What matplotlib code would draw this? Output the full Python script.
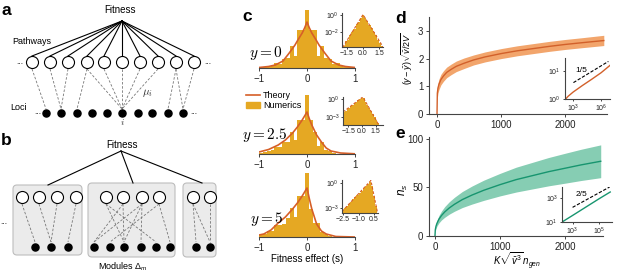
import matplotlib
matplotlib.use('Agg')
import matplotlib.pyplot as plt
import numpy as np
from matplotlib.patches import FancyBboxPatch, Patch
from matplotlib.lines import Line2D

plt.rcParams['font.family'] = ['Liberation Sans', 'DejaVu Sans']
plt.rcParams['mathtext.fontset'] = 'custom'
plt.rcParams['mathtext.it'] = 'Liberation Sans:italic'
plt.rcParams['mathtext.rm'] = 'Liberation Sans'
plt.rcParams['axes.unicode_minus'] = True

W, H = 617, 275

# ---------------- data ----------------
# panel a (schematic)
a_path_x = [32, 50, 68, 87, 104, 122, 140, 158, 176, 194]
a_loci_x = [46, 61, 77, 92, 107, 122, 138, 152, 168, 183]
a_links = [(0, 0), (1, 1), (2, 1), (3, 2), (3, 5), (4, 5), (5, 5), (6, 5), (7, 5), (8, 8), (8, 9), (9, 9)]

# panel b (schematic)
b_box_x0 = [13, 88, 183]
b_box_x1 = [82, 175, 216]
b_box_y0 = [185, 183, 183]
b_box_y1 = [255, 257, 257]
b_path_x = [[22, 39, 57, 76], [106, 123, 142, 159], [193, 210]]
b_loci_x = [[35, 51, 68], [94, 110, 124, 141, 156, 170], [196, 210]]
b_links = [[(0, 0), (1, 1), (2, 1), (3, 2)],
           [(0, 2), (0, 4), (1, 0), (1, 2), (2, 0), (2, 2), (2, 3), (3, 1), (3, 5)],
           [(0, 0), (0, 1), (1, 1)]]
b_fit_x = [48, 133, 202]
b_fit_y = [185, 183, 183]

# panel c: histograms (main) and theory curves
c_edges = [-1.0, -0.92, -0.84, -0.76, -0.68, -0.60, -0.52, -0.44, -0.36, -0.28, -0.20, -0.12, -0.04,
           0.04, 0.12, 0.20, 0.28, 0.36, 0.44, 0.52, 0.60, 0.68, 0.76, 0.84, 0.92, 1.0]
c_num_y0 = [0.5, 1, 1.5, 2, 5, 4, 9, 10, 22, 12, 38, 38, 58, 38, 38, 12, 22, 10, 9, 4, 5, 2, 1.5, 1, 0.5]
c_num_y25 = [1.5, 2, 3, 4, 7, 7, 12, 12, 22, 14, 34, 34, 59, 34, 22, 8, 12, 4, 3, 1, 0.5, 0.3, 0, 0, 0]
c_num_y5 = [2, 3, 6, 6, 12, 12, 13, 19, 29, 20, 41, 41, 64, 28, 14, 14, 5, 3, 1, 0.5, 0, 0, 0, 0, 0]

c_th_s0 = [-1, -0.8, -0.66, -0.5, -0.37, -0.25, -0.19, -0.1, -0.05, 0, 0.05, 0.1, 0.19, 0.25, 0.37, 0.5, 0.66, 0.8, 1]
c_th_h0 = [0.5, 1.5, 3, 7, 15, 23, 28, 35, 40, 46, 40, 35, 28, 23, 15, 7, 3, 1.5, 0.5]
c_th_s25 = [-1, -0.8, -0.6, -0.45, -0.3, -0.2, -0.1, -0.05, 0, 0.05, 0.1, 0.2, 0.3, 0.4, 0.5, 0.7, 1.0]
c_th_h25 = [2, 4.5, 9, 14, 21, 27, 34, 38, 42, 35, 29, 19, 12, 6, 3, 1, 0.2]
c_th_s5 = [-1, -0.9, -0.75, -0.6, -0.45, -0.3, -0.2, -0.1, -0.05, 0, 0.05, 0.1, 0.2, 0.3, 0.4, 0.6, 1.0]
c_th_h5 = [2, 3, 7, 14, 20, 28, 34, 41, 45, 49, 38, 28, 13, 6, 3, 0.5, 0]

# panel c insets (log10 of density)
ci1_edges = np.linspace(-1.9, 1.9, 20)
ci1_log = [-3.7, -3.1, -2.9, -2.3, -2.0, -1.6, -1.1, -0.8, -0.35, 0.05, -0.4, -0.75, -1.2, -1.55, -2.05, -2.4, -2.9, -3.3, -3.7]
ci1_th_s = [-1.9, 0, 1.9]
ci1_th_log = [-3.8, 0.05, -3.8]
ci2_edges = np.linspace(-2.1, 1.9, 21)
ci2_log = [-2.17, -1.93, -1.69, -1.45, -1.21, -0.97, -0.73, -0.49, -0.25, -0.01, 0.23, 0.09, -0.43, -0.95, -1.47, -1.99, -2.51, -3.03, -3.55, -4.07]
ci2_th_s = [-2.1, 0.1, 1.85]
ci2_th_log = [-2.17, 0.35, -4.3]
ci3_edges = np.linspace(-2.6, 0.8, 18)
ci3_log = [-3.29, -3.03, -2.76, -2.49, -2.23, -1.96, -1.70, -1.43, -1.16, -0.90, -0.63, -0.37, -0.10, 0.17, -0.30, -1.50, -2.70]
ci3_th_s = [-2.6, 0.2, 0.85]
ci3_th_log = [-3.42, 0.3, -3.6]

# panel d
d_x = [0, 5, 15, 30, 60, 100, 150, 220, 300, 420, 570, 750, 1000, 1250, 1500, 1750, 2000, 2250, 2600]
d_mean = [0, 0.75, 0.94, 1.07, 1.24, 1.37, 1.50, 1.61, 1.72, 1.83, 1.95, 2.06, 2.18, 2.28, 2.36, 2.44, 2.51, 2.57, 2.65]
d_lo = [0, 0.58, 0.76, 0.88, 1.05, 1.18, 1.31, 1.42, 1.53, 1.64, 1.77, 1.88, 2.00, 2.10, 2.18, 2.26, 2.33, 2.39, 2.47]
d_hi = [0, 0.92, 1.12, 1.26, 1.43, 1.56, 1.69, 1.80, 1.91, 2.02, 2.13, 2.24, 2.36, 2.46, 2.54, 2.62, 2.69, 2.75, 2.84]
d_in_x = [160, 300, 1e3, 1e4, 1e5, 1e6, 9e6]
d_in_y = [1.0, 1.25, 1.75, 3.0, 5.0, 8.5, 15.5]
d_ref_x = [1.1e3, 6e6]
d_ref_y = [3.8, 21.3]

# panel e
e_x = [0, 5, 15, 30, 60, 100, 150, 220, 300, 420, 570, 750, 1000, 1250, 1500, 1750, 2000, 2250, 2550]
e_mean = [0, 6.4, 9.9, 13.0, 17.2, 21.1, 24.8, 28.9, 32.7, 37.5, 42.2, 47.1, 52.9, 58.1, 62.2, 66.3, 69.8, 73.3, 77.0]
e_lo = [0, 5.0, 7.7, 10.1, 13.4, 16.5, 19.3, 22.5, 25.5, 29.3, 32.9, 36.7, 41.3, 45.3, 48.5, 51.7, 54.4, 57.2, 60.1]
e_hi = [0, 7.8, 12.1, 15.9, 21.0, 25.7, 30.3, 35.3, 39.9, 45.8, 51.5, 57.5, 64.5, 70.9, 75.9, 80.9, 85.2, 89.4, 93.9]
e_in_x = [160, 1e3, 1e4, 1e5, 7e5]
e_in_y = [10, 35.5, 178, 891, 3311]
e_ref_x = [1e3, 6.3e5]
e_ref_y = [170, 8700]

# ---------------- styling ----------------
GOLD = '#E5A823'
RED = '#D65F28'
OR_BAND = '#F2A56C'
OR_LINE = '#D2602A'
GR_BAND = '#86CDB3'
GR_LINE = '#17956F'
SPINE = '#444444'

fig = plt.figure(figsize=(W / 100, H / 100), dpi=100)


def rect(x0, y0, x1, y1):
    return [x0 / W, 1 - y1 / H, (x1 - x0) / W, (y1 - y0) / H]


def style(ax, fs=7, tl=2.5):
    for s in ['top', 'right']:
        ax.spines[s].set_visible(False)
    for s in ['left', 'bottom']:
        ax.spines[s].set_color(SPINE)
        ax.spines[s].set_linewidth(0.8)
    ax.tick_params(labelsize=fs, length=tl, width=0.7, color=SPINE, pad=1.5, labelcolor='#222222')
    ax.minorticks_off()


# ---------------- panels a & b (schematic) ----------------
ax0 = fig.add_axes([0, 0, 222 / W, 1])
ax0.set_xlim(0, 222)
ax0.set_ylim(275, 0)
ax0.axis('off')

ax0.text(120, 10, 'Fitness', ha='center', va='center', fontsize=7)
for x in a_path_x:
    ax0.plot([122, x], [21, 56], color='k', lw=0.8)
for i, j in a_links:
    ax0.plot([a_path_x[i], a_loci_x[j]], [69, 109], color='#777777', lw=0.6, ls=(0, (3, 2)))
ax0.scatter(a_path_x, [62] * len(a_path_x), s=75, facecolor='white', edgecolor='k', lw=0.8, zorder=3)
ax0.scatter(a_loci_x, [113] * len(a_loci_x), s=26, color='k', zorder=3)
ax0.text(12, 42, 'Pathways', fontsize=6.5, va='center')
ax0.text(10, 108, 'Loci', fontsize=6.5, va='center')
ax0.text(20, 62, '...', fontsize=6, ha='center', va='center')
ax0.text(208, 62, '...', fontsize=6, ha='center', va='center')
ax0.text(38, 112, '...', fontsize=6, ha='center', va='center')
ax0.text(194, 112, '...', fontsize=6, ha='center', va='center')
ax0.text(147, 93, r'$\mu_i$', fontsize=8, ha='center', va='center', math_fontfamily='cm', color='#333333')
ax0.text(122, 122, r'$i$', fontsize=7, ha='center', va='center', math_fontfamily='cm', color='#333333')

ax0.text(122, 145, 'Fitness', ha='center', va='center', fontsize=7)
for k in range(3):
    bx = FancyBboxPatch((b_box_x0[k], b_box_y0[k]), b_box_x1[k] - b_box_x0[k], b_box_y1[k] - b_box_y0[k],
                        boxstyle='round,pad=0,rounding_size=4', fc='#EBEBEB', ec='#BDBDBD', lw=0.8, zorder=1)
    ax0.add_patch(bx)
    ax0.plot([121, b_fit_x[k]], [151, b_fit_y[k]], color='k', lw=0.8, zorder=2)
    for i, j in b_links[k]:
        ax0.plot([b_path_x[k][i], b_loci_x[k][j]], [204, 242], color='#777777', lw=0.6, ls=(0, (3, 2)), zorder=2)
    ax0.scatter(b_path_x[k], [197] * len(b_path_x[k]), s=75, facecolor='white', edgecolor='k', lw=0.8, zorder=3)
    ax0.scatter(b_loci_x[k], [247] * len(b_loci_x[k]), s=26, color='k', zorder=3)
ax0.text(4, 222, '...', fontsize=6, ha='center', va='center')
ax0.text(123, 267, r'Modules $\Delta_m$', fontsize=6.5, ha='center', va='center')

# ---------------- panel c ----------------
c_specs = [((259, 8, 355, 68), 60, c_num_y0, c_th_s0, c_th_h0),
           ((259, 94, 355, 154), 60, c_num_y25, c_th_s25, c_th_h25),
           ((259, 172, 355, 237), 65, c_num_y5, c_th_s5, c_th_h5)]
edges = np.array(c_edges)
for r, ytop, hts, ts, th in c_specs:
    ax = fig.add_axes(rect(*r))
    ax.bar(edges[:-1], hts, width=np.diff(edges), align='edge', color=GOLD, lw=0)
    ax.plot(ts, th, color=RED, lw=1.2)
    ax.set_xlim(-1, 1)
    ax.set_ylim(0, ytop)
    style(ax)
    ax.spines['left'].set_visible(False)
    ax.set_yticks([])
    ax.set_xticks([-1, 0, 1])
    ax.set_xticklabels(['\u22121', '0', '1'])
    ax.patch.set_alpha(0)
ax.set_xlabel('Fitness effect (s)', fontsize=7, labelpad=1)

fig.text(266 / W, 1 - 53 / H, r'$y = 0$', ha='center', va='center', fontsize=11, math_fontfamily='cm')
fig.text(265 / W, 1 - 135 / H, r'$y = 2.5$', ha='center', va='center', fontsize=11, math_fontfamily='cm')
fig.text(267 / W, 1 - 219 / H, r'$y = 5$', ha='center', va='center', fontsize=11, math_fontfamily='cm')

fig.legend(handles=[Line2D([], [], color=RED, lw=1.2), Patch(color=GOLD)], labels=['Theory', 'Numerics'],
           loc='upper left', bbox_to_anchor=(246 / W, 1 - 91 / H), frameon=False, fontsize=6.5,
           handlelength=1.5, handleheight=0.6, labelspacing=0.15, handletextpad=0.4, borderpad=0, borderaxespad=0)

ins_specs = [((342, 13, 383, 47), ci1_edges, ci1_log, ci1_th_s, ci1_th_log, (-1.97, 1.87), (-3.76, 0.24),
              [-1.5, 0, 1.5], ['\u22121.5', '0.0', '1.5'], [1, 1e-2], [r'$10^{0}$', r'$10^{-2}$']),
             ((343, 97, 383, 125), ci2_edges, ci2_log, ci2_th_s, ci2_th_log, (-2.1, 2.33), (-4.33, 0.33),
              [-1.5, 0, 1.5], ['\u22121.5', '0.0', '1.5'], [1, 1e-3], [r'$10^{0}$', r'$10^{-3}$']),
             ((342, 180, 378, 213), ci3_edges, ci3_log, ci3_th_s, ci3_th_log, (-2.6, 0.89), (-3.6, 0.36),
              [-2.5, -1.0, 0.5], ['\u22122.5', '\u22121.0', '0.5'], [1, 1e-3], [r'$10^{0}$', r'$10^{-3}$'])]
for r, ed, lg, ts, tl, xl, yl, xt, xtl, yt, ytl in ins_specs:
    ax = fig.add_axes(rect(*r))
    ax.set_yscale('log')
    base = 10 ** yl[0]
    ax.stairs(10 ** np.array(lg), ed, fill=True, baseline=base, color=GOLD, lw=0)
    ax.plot(ts, 10 ** np.array(tl), color=RED, lw=0.8, ls=(0, (2.5, 1.5)))
    ax.set_xlim(*xl)
    ax.set_ylim(10 ** yl[0], 10 ** yl[1])
    style(ax, fs=5, tl=1.5)
    ax.set_xticks(xt)
    ax.set_xticklabels(xtl)
    ax.set_yticks(yt)
    ax.set_yticklabels(ytl)
    ax.minorticks_off()
    ax.tick_params(pad=0.8)

# ---------------- panel d ----------------
axd = fig.add_axes(rect(429, 17, 607, 114))
axd.fill_between(d_x, d_lo, d_hi, color=OR_BAND, lw=0)
axd.plot(d_x, d_mean, color=OR_LINE, lw=1.0)
axd.set_xlim(-125, 2650)
axd.set_ylim(0, 3.5)
style(axd)
axd.set_yticks([0, 1, 2, 3])
axd.set_xticks([0, 1000, 2000])
fig.text(407 / W, 1 - 59 / H, r'$(y-\bar{y})\sqrt{\bar{v}/2V}$', rotation=90, ha='center', va='center', fontsize=6.5)

axdi = fig.add_axes(rect(565, 58, 610, 99))
axdi.set_xscale('log')
axdi.set_yscale('log')
axdi.plot(d_in_x, d_in_y, color=OR_LINE, lw=1.0)
axdi.plot(d_ref_x, d_ref_y, color='k', lw=0.8, ls=(0, (3, 1.5)))
axdi.set_xlim(10 ** 2.14, 10 ** 6.95)
axdi.set_ylim(1, 10 ** 1.45)
style(axdi, fs=5, tl=1.5)
axdi.set_xticks([1e3, 1e6])
axdi.set_xticklabels([r'$10^{3}$', r'$10^{6}$'])
axdi.set_yticks([1, 10])
axdi.set_yticklabels([r'$10^{0}$', r'$10^{1}$'])
axdi.minorticks_off()
axdi.text(10 ** 3.25, 10 ** 1.0, '1/5', fontsize=6, ha='left', va='center')

# ---------------- panel e ----------------
axe = fig.add_axes(rect(429, 137, 603, 236))
axe.fill_between(e_x, e_lo, e_hi, color=GR_BAND, lw=0)
axe.plot(e_x, e_mean, color=GR_LINE, lw=1.0)
axe.set_xlim(-92, 2585)
axe.set_ylim(0, 102)
style(axe)
axe.set_yticks([0, 50, 100])
axe.set_xticks([0, 1000, 2000])
fig.text(403 / W, 1 - 190 / H, r'$n_s$', rotation=90, ha='center', va='center', fontsize=8.5)
fig.text(517 / W, 1 - 261 / H, r'$K\sqrt{\bar{v}^3}\,n_{gen}$', ha='center', va='center', fontsize=7)

axei = fig.add_axes(rect(562, 187, 612, 222))
axei.set_xscale('log')
axei.set_yscale('log')
axei.plot(e_in_x, e_in_y, color=GR_LINE, lw=1.0)
axei.plot(e_ref_x, e_ref_y, color='k', lw=0.8, ls=(0, (3, 1.5)))
axei.set_xlim(10 ** 2.2, 10 ** 5.98)
axei.set_ylim(10, 10 ** 3.94)
style(axei, fs=5, tl=1.5)
axei.set_xticks([1e3, 1e5])
axei.set_xticklabels([r'$10^{3}$', r'$10^{5}$'])
axei.set_yticks([10, 1e3])
axei.set_yticklabels([r'$10^{1}$', r'$10^{3}$'])
axei.minorticks_off()
axei.text(10 ** 3.25, 10 ** 3.33, '2/5', fontsize=6, ha='left', va='center')

# ---------------- panel labels ----------------
for lbl, x, y in [('a', 1, 15), ('b', 1, 145), ('c', 242, 21), ('d', 395, 23), ('e', 395, 138)]:
    fig.text(x / W, 1 - y / H, lbl, fontsize=12.5, fontweight='bold', ha='left', va='baseline')

fig.savefig('out.png', dpi=100)
